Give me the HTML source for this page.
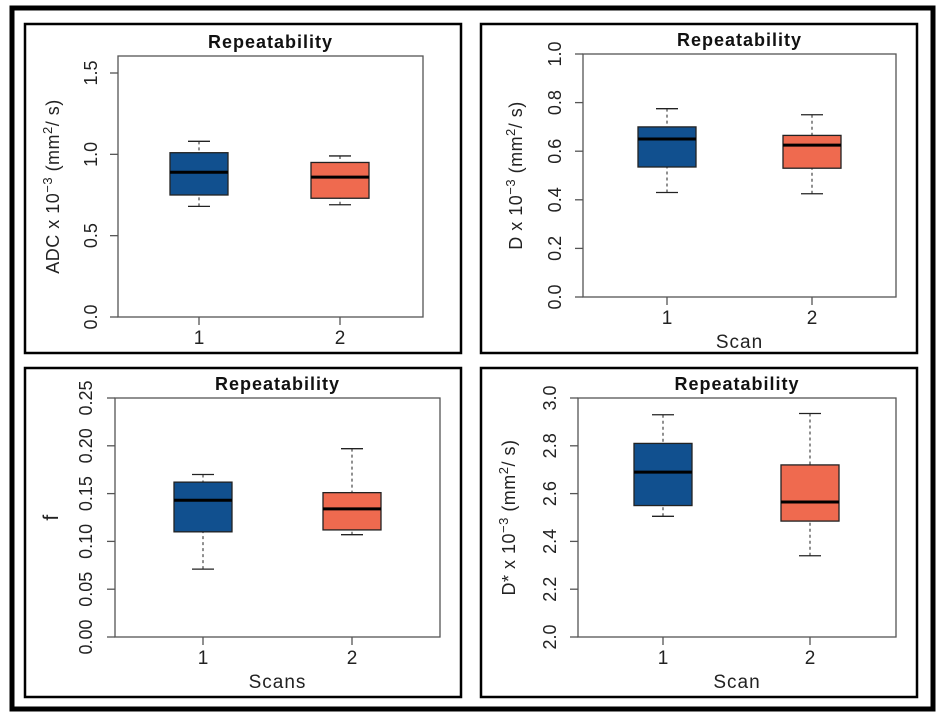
<!DOCTYPE html>
<html><head><meta charset="utf-8"><style>
body{margin:0;background:#fff;}
svg{display:block;font-family:"Liberation Sans",sans-serif;}
</style></head><body>
<svg id="s" width="942" height="719">
<rect x="12" y="8" width="921" height="701" fill="none" stroke="#000" stroke-width="5"/>
</svg>
<script>
const scans = ["1","2"];
// panel 1: ADC
const adcQ1=[0.75,0.73], adcMed=[0.89,0.86], adcQ3=[1.01,0.95], adcLo=[0.68,0.69], adcHi=[1.08,0.99];
const adcTicks=["0.0","0.5","1.0","1.5"];
// panel 2: D
const dQ1=[0.535,0.53], dMed=[0.65,0.625], dQ3=[0.70,0.665], dLo=[0.43,0.425], dHi=[0.775,0.75];
const dTicks=["0.0","0.2","0.4","0.6","0.8","1.0"];
// panel 3: f
const fQ1=[0.110,0.112], fMed=[0.143,0.134], fQ3=[0.162,0.151], fLo=[0.071,0.107], fHi=[0.170,0.197];
const fTicks=["0.00","0.05","0.10","0.15","0.20","0.25"];
// panel 4: D*
const dsQ1=[2.55,2.485], dsMed=[2.69,2.565], dsQ3=[2.81,2.72], dsLo=[2.505,2.34], dsHi=[2.93,2.935];
const dsTicks=["2.0","2.2","2.4","2.6","2.8","3.0"];
const colors=["#11508f","#ef6a4f"];

const svg=document.getElementById('s');
const NS="http://www.w3.org/2000/svg";
function mk(tag,attrs,parent,text){const e=document.createElementNS(NS,tag);for(const k in attrs)e.setAttribute(k,attrs[k]);if(text!==undefined)e.textContent=text;(parent||svg).appendChild(e);return e;}

function panel(cfg){
  const g=mk('g',{});
  
  
  const fr=mk('rect',{x:cfg.px,y:cfg.py,width:436,height:329,fill:'#fff',stroke:'#000','stroke-width':2.5},g);
  
  
  const y=v=>cfg.y0+(v-cfg.vmin)/(cfg.vmax-cfg.vmin)*(cfg.y1-cfg.y0);
  const pa=mk('rect',{x:cfg.x0,y:cfg.top,width:cfg.x1-cfg.x0,height:cfg.bottom-cfg.top,fill:'none',stroke:'#555','stroke-width':1.3},g);
  
  
  const t=mk('text',{x:(cfg.x0+cfg.x1)/2,y:cfg.top-8,'text-anchor':'middle','font-size':18,'font-weight':'bold','letter-spacing':1,fill:'#111'},g,'Repeatability');
  
  
  cfg.ticks.forEach(tk=>{
    const v=parseFloat(tk), yy=y(v);
    mk('line',{x1:cfg.x0-8,x2:cfg.x0,y1:yy,y2:yy,stroke:'#555','stroke-width':1.3},g);
    const tl=mk('text',{x:0,y:0,transform:`translate(${cfg.tx},${yy}) rotate(-90)`,'text-anchor':'middle','font-size':18,fill:'#222'},g,tk);
    
    
  });
  const yl=mk('text',{x:0,y:0,transform:`translate(${cfg.lx},${(cfg.top+cfg.bottom)/2}) rotate(-90)`,'text-anchor':'middle','font-size':cfg.lfs||18,fill:'#222','letter-spacing':0.5},g);
  
  
  yl.innerHTML=cfg.ylab;
  if(cfg.xlab){
    const xl=mk('text',{x:(cfg.x0+cfg.x1)/2,y:cfg.bottom+51,'text-anchor':'middle','font-size':19,fill:'#222','letter-spacing':1},g,cfg.xlab);
    
    
  }
  const hw=29, cap=11;
  scans.forEach((s,i)=>{
    const cx=cfg.cx[i];
    mk('line',{x1:cx,x2:cx,y1:cfg.bottom,y2:cfg.bottom+8,stroke:'#555','stroke-width':1.3},g);
    const xt=mk('text',{x:cx,y:cfg.bottom+27,'text-anchor':'middle','font-size':19,fill:'#222'},g,s);
    
    
    const bg=mk('g',{},g);
    
    
    mk('line',{x1:cx,x2:cx,y1:y(cfg.hi[i]),y2:y(cfg.q3[i]),stroke:'#222','stroke-dasharray':'3,3'},bg);
    mk('line',{x1:cx,x2:cx,y1:y(cfg.lo[i]),y2:y(cfg.q1[i]),stroke:'#222','stroke-dasharray':'3,3'},bg);
    mk('line',{x1:cx-cap,x2:cx+cap,y1:y(cfg.hi[i]),y2:y(cfg.hi[i]),stroke:'#222','stroke-width':1.3},bg);
    mk('line',{x1:cx-cap,x2:cx+cap,y1:y(cfg.lo[i]),y2:y(cfg.lo[i]),stroke:'#222','stroke-width':1.3},bg);
    mk('rect',{x:cx-hw,y:y(cfg.q3[i]),width:2*hw,height:y(cfg.q1[i])-y(cfg.q3[i]),fill:colors[i],stroke:'#222','stroke-width':1.3},bg);
    mk('line',{x1:cx-hw,x2:cx+hw,y1:y(cfg.med[i]),y2:y(cfg.med[i]),stroke:'#000','stroke-width':3},bg);
  });
}
const sup=(a)=>a+' x 10<tspan dy="-7" font-size="13">−3</tspan><tspan dy="7"> (mm</tspan><tspan dy="-7" font-size="13">2</tspan><tspan dy="7">/ s)</tspan>';
panel({name:'adc-panel',px:25,py:24,x0:118,x1:423,top:56,bottom:317,vmin:0,vmax:1.5,y0:317,y1:73,tx:97,lx:59,cx:[199,340],
  ticks:adcTicks,q1:adcQ1,med:adcMed,q3:adcQ3,lo:adcLo,hi:adcHi,ylab:sup('ADC')});
panel({name:'d-panel',px:481,py:24,x0:583,x1:896,top:54,bottom:297,vmin:0,vmax:1,y0:297,y1:54,tx:561,lx:522,cx:[667,812],xlab:'Scan',
  ticks:dTicks,q1:dQ1,med:dMed,q3:dQ3,lo:dLo,hi:dHi,ylab:sup('D')});
panel({name:'f-panel',px:25,py:368,x0:115,x1:440,top:398,bottom:637,vmin:0,vmax:0.25,y0:637,y1:398,tx:92,lx:58,lfs:21,cx:[203,352],xlab:'Scans',
  ticks:fTicks,q1:fQ1,med:fMed,q3:fQ3,lo:fLo,hi:fHi,ylab:'f'});
panel({name:'dstar-panel',px:481,py:368,x0:578,x1:896,top:398,bottom:637,vmin:2,vmax:3,y0:637,y1:398,tx:556,lx:515,cx:[663,810],xlab:'Scan',
  ticks:dsTicks,q1:dsQ1,med:dsMed,q3:dsQ3,lo:dsLo,hi:dsHi,ylab:sup('D*')});
</script>
</body></html>
